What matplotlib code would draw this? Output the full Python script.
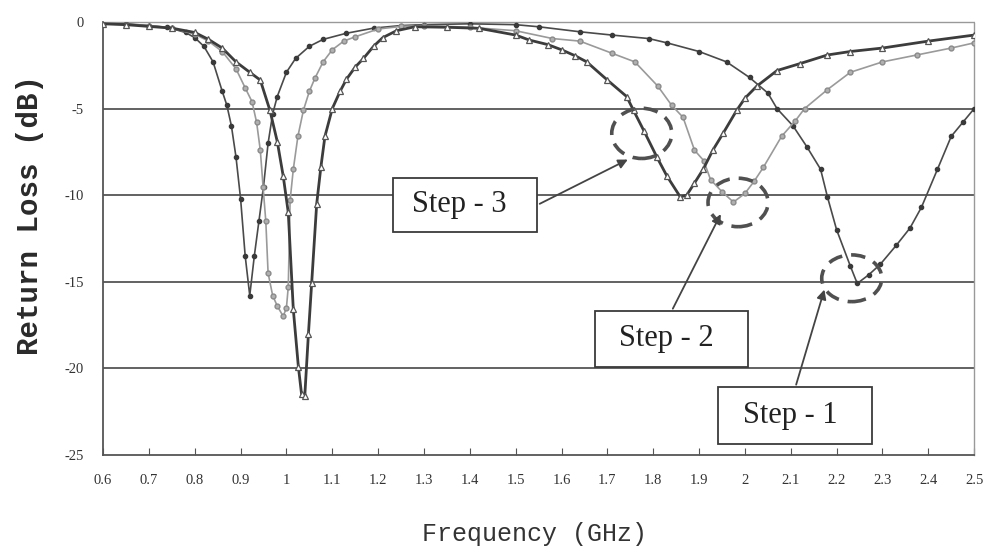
import matplotlib
matplotlib.use("Agg")
import matplotlib.pyplot as plt
from matplotlib.patches import Ellipse, Rectangle

# Step - 1 (dark, filled dots)
f1 = [0.60, 0.65, 0.70, 0.74, 0.78, 0.80, 0.82, 0.84, 0.86, 0.87, 0.88, 0.89, 0.90, 0.91, 0.92,
      0.93, 0.94, 0.95, 0.96, 0.97, 0.98, 1.00, 1.02, 1.05, 1.08, 1.13, 1.19, 1.25, 1.30, 1.40,
      1.50, 1.55, 1.64, 1.71, 1.79, 1.83, 1.90, 1.96, 2.01, 2.05, 2.07, 2.105, 2.135, 2.165, 2.18,
      2.20, 2.23, 2.245, 2.27, 2.295, 2.33, 2.36, 2.385, 2.42, 2.45, 2.475, 2.50]
s1 = [-0.1, -0.1, -0.2, -0.3, -0.6, -0.9, -1.4, -2.3, -4.0, -4.8, -6.0, -7.8, -10.2, -13.5, -15.8,
      -13.5, -11.5, -9.5, -7.0, -5.3, -4.3, -2.9, -2.1, -1.4, -1.0, -0.65, -0.35, -0.2, -0.15, -0.1,
      -0.15, -0.27, -0.56, -0.75, -0.95, -1.2, -1.7, -2.3, -3.2, -4.1, -5.0, -6.0, -7.2, -8.5, -10.1,
      -12.0, -14.1, -15.1, -14.6, -14.0, -12.9, -11.9, -10.7, -8.5, -6.6, -5.8, -5.0]

# Step - 2 (light gray, small circles)
f2 = [0.60, 0.65, 0.70, 0.75, 0.80, 0.83, 0.86, 0.89, 0.91, 0.925, 0.935, 0.943, 0.949, 0.955, 0.96,
      0.97, 0.98, 0.993, 1.000, 1.004, 1.008, 1.015, 1.025, 1.037, 1.05, 1.062, 1.08, 1.10, 1.125, 1.15,
      1.20, 1.25, 1.30, 1.40, 1.50, 1.58, 1.64, 1.71, 1.76, 1.81, 1.84, 1.865, 1.89, 1.91, 1.925,
      1.95, 1.975, 2.00, 2.02, 2.04, 2.08, 2.11, 2.13, 2.18, 2.23, 2.30, 2.375, 2.45, 2.50]
s2 = [-0.1, -0.15, -0.2, -0.35, -0.7, -1.1, -1.7, -2.7, -3.8, -4.6, -5.8, -7.4, -9.5, -11.5, -14.5,
      -15.8, -16.4, -17.0, -16.5, -15.3, -10.3, -8.5, -6.6, -5.1, -4.0, -3.25, -2.3, -1.6, -1.1, -0.85,
      -0.4, -0.25, -0.2, -0.3, -0.5, -0.95, -1.1, -1.8, -2.3, -3.7, -4.8, -5.5, -7.4, -8.0, -9.1,
      -9.8, -10.4, -9.9, -9.2, -8.4, -6.6, -5.7, -5.0, -3.9, -2.9, -2.3, -1.9, -1.5, -1.2]

# Step - 3 (dark, open triangles)
f3 = [0.60, 0.65, 0.70, 0.75, 0.80, 0.83, 0.86, 0.89, 0.92, 0.943, 0.964, 0.98, 0.993, 1.004, 1.015,
      1.026, 1.033, 1.04, 1.048, 1.055, 1.066, 1.075, 1.084, 1.10, 1.117, 1.131, 1.15, 1.168, 1.19, 1.21,
      1.24, 1.28, 1.35, 1.42, 1.50, 1.53, 1.57, 1.60, 1.63, 1.655, 1.70, 1.742, 1.757, 1.78, 1.808,
      1.83, 1.859, 1.873, 1.89, 1.909, 1.93, 1.953, 1.982, 2.00, 2.026, 2.07, 2.12, 2.18, 2.23, 2.30,
      2.40, 2.50]
s3 = [-0.1, -0.15, -0.25, -0.35, -0.6, -1.0, -1.5, -2.3, -2.9, -3.35, -5.1, -6.9, -8.9, -11.0, -16.6,
      -19.9, -21.5, -21.6, -18.0, -15.1, -10.5, -8.4, -6.6, -5.0, -4.0, -3.3, -2.6, -2.1, -1.4, -0.9,
      -0.5, -0.27, -0.3, -0.36, -0.75, -1.04, -1.3, -1.6, -1.95, -2.3, -3.35, -4.3, -5.1, -6.3, -7.8,
      -8.9, -10.1, -10.0, -9.3, -8.5, -7.4, -6.4, -5.1, -4.4, -3.7, -2.8, -2.4, -1.9, -1.7, -1.5,
      -1.1, -0.75]

xticks = [0.6, 0.7, 0.8, 0.9, 1.0, 1.1, 1.2, 1.3, 1.4, 1.5, 1.6, 1.7, 1.8, 1.9, 2.0, 2.1, 2.2, 2.3, 2.4, 2.5]
xticklabels = ["0.6", "0.7", "0.8", "0.9", "1", "1.1", "1.2", "1.3", "1.4", "1.5", "1.6", "1.7",
               "1.8", "1.9", "2", "2.1", "2.2", "2.3", "2.4", "2.5"]
yticks = [0, -5, -10, -15, -20, -25]

# label boxes: text, (x0, y0, x1, y1) box, arrow tail, arrow head, ellipse centre
labels = ["Step - 1", "Step - 2", "Step - 3"]
boxes = [(1.942, -24.4, 2.278, -21.1), (1.673, -19.9, 2.007, -16.7), (1.233, -12.1, 1.547, -9.0)]
tails = [(2.11, -21.1), (1.84, -16.7), (1.547, -10.57)]
heads = [(2.175, -15.3), (1.95, -10.95), (1.75, -7.87)]
circles = [(2.233, -14.8, 2.7), (1.985, -10.42, 2.8), (1.775, -6.43, 2.9)]

fig = plt.figure(figsize=(9.86, 5.52), dpi=100)
ax = fig.add_axes([0.1045, 0.176, 0.8835, 0.784])

for g in [-5, -10, -15, -20]:
    ax.axhline(g, color="#555555", lw=1.3, zorder=1)

ax.plot(f1, s1, color="#4a4a4a", lw=1.2, marker="o", ms=3, mfc="#3a3a3a", mec="#3a3a3a", zorder=3)
ax.plot(f2, s2, color="#9a9a9a", lw=1.2, marker="o", ms=3.5, mfc="#b0b0b0", mec="#8a8a8a", zorder=3)
ax.plot(f3, s3, color="#3c3c3c", lw=2.0, marker="^", ms=5, mfc="white", mec="#555555", mew=0.9, zorder=3)

for (cx, cy, h) in circles:
    ax.add_patch(Ellipse((cx, cy), 0.131, h, fill=False, ec="#505050", lw=2.6,
                         ls=(0, (4, 2.5)), zorder=4))

for txt, (x0, y0, x1, y1), t, hd in zip(labels, boxes, tails, heads):
    ax.add_patch(Rectangle((x0, y0), x1 - x0, y1 - y0, fc="white", ec="#3a3a3a", lw=1.3, zorder=5))
    ax.text((x0 + x1) / 2 - 0.012, (y0 + y1) / 2, txt, ha="center", va="center", fontsize=22,
            family="Liberation Serif", color="#222222", zorder=6)
    ax.annotate("", xy=hd, xytext=t,
                arrowprops=dict(arrowstyle="-|>", color="#444444", lw=1.3, mutation_scale=14),
                zorder=6)

ax.set_xlim(0.6, 2.5)
ax.set_ylim(-25, 0)
ax.set_xticks(xticks)
ax.set_xticklabels(xticklabels, family="Liberation Serif", fontsize=10.5, color="#333333")
ax.set_yticks(yticks)
ax.set_yticklabels([str(v) for v in yticks], family="Liberation Serif", fontsize=10.5, color="#333333")
ax.tick_params(axis="x", direction="in", length=5, pad=14, color="#555555")
ax.tick_params(axis="y", length=0, pad=14)

for side in ["left", "bottom"]:
    ax.spines[side].set_color("#555555")
    ax.spines[side].set_linewidth(1.3)
for side in ["top", "right"]:
    ax.spines[side].set_color("#999999")
    ax.spines[side].set_linewidth(1.0)
    ax.spines[side].set_linestyle((0, (1, 1)))

ax.set_xlabel("Frequency (GHz)", family="Liberation Mono", fontsize=18, color="#333333")
ax.xaxis.set_label_coords(0.495, -0.155)
ax.set_ylabel("Return Loss (dB)", family="Liberation Mono", fontweight="bold", fontsize=21,
              color="#2a2a2a")
ax.yaxis.set_label_coords(-0.068, 0.555)

fig.savefig("out.png", dpi=100)
